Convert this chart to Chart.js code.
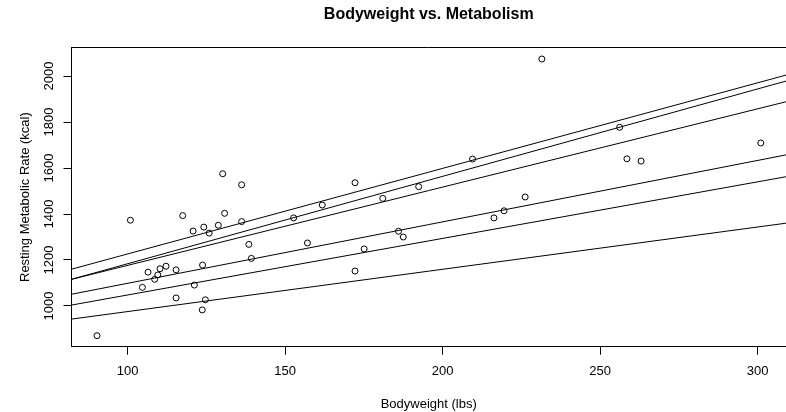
<!DOCTYPE html>
<html>
<head>
<meta charset="utf-8">
<script src="https://cdn.jsdelivr.net/npm/chart.js@4.4.1/dist/chart.umd.min.js"></script>
<style>
html, body { margin: 0; padding: 0; background: #fff; }
#wrap { width: 786px; height: 412px; }
</style>
</head>
<body>
<div id="wrap"><canvas id="chart"></canvas></div>
<script>
"use strict";

// observed people
var bodyweight = [
    90.3, 100.9, 117.5, 130.2, 136.2, 130.8, 120.8, 124.2, 125.9, 128.8,
    136.2, 138.5, 139.3, 106.5, 104.7, 108.6, 109.6, 110.3, 112.2, 115.4,
    123.8, 121.2, 115.4, 124.7, 123.7, 231.5, 209.5, 172.2, 192.4, 181.0,
    161.8, 152.7, 226.2, 219.5, 216.3, 186.0, 187.5, 157.1, 175.1, 172.2,
    256.2, 258.5, 263.0, 301.0
];
var metabolicRate = [
    871, 1373, 1393, 1575, 1527, 1403, 1326, 1343, 1317, 1351,
    1367, 1268, 1207, 1147, 1081, 1116, 1135, 1162, 1173, 1157,
    1178, 1091, 1035, 1027, 983, 2074, 1639, 1536, 1519, 1468,
    1439, 1383, 1474, 1414, 1383, 1325, 1300, 1274, 1248, 1152,
    1777, 1640, 1630, 1709
];

// fitted lines, value at left and right end of the x range
var xRange = [82.2, 309.0];
var fitLeft = [1160, 1116, 1116, 1051, 1004, 943];
var fitRight = [2004, 1978, 1888, 1657, 1562, 1360];

var yRange = [823, 2124];
var xTicks = [100, 150, 200, 250, 300];
var yTicks = [1000, 1200, 1400, 1600, 1800, 2000];

var FONT = "'Liberation Sans', Arial, Helvetica, sans-serif";
Chart.defaults.font.family = FONT;
Chart.defaults.font.size = 13;
Chart.defaults.color = "#000";

function _points() {
    return bodyweight.map(function(x, i) {
        return { x: x, y: metabolicRate[i] };
    });
}

function _fitLines() {
    return fitLeft.map(function(v, i) {
        return {
            type: "line",
            data: [{ x: xRange[0], y: v }, { x: xRange[1], y: fitRight[i] }],
            borderColor: "#000",
            borderWidth: 1,
            pointRadius: 0,
            fill: false
        };
    });
}

// top of the box plus the vertical y tick labels, R style
var rFrame = {
    id: "rFrame",
    afterDraw: function(chart) {
        var ctx = chart.ctx;
        var area = chart.chartArea;
        var yScale = chart.scales.y;
        ctx.save();
        ctx.strokeStyle = "#000";
        ctx.lineWidth = 1;
        ctx.beginPath();
        ctx.moveTo(area.left, area.top);
        ctx.lineTo(area.right, area.top);
        ctx.stroke();
        ctx.fillStyle = "#000";
        ctx.font = "13px " + FONT;
        ctx.textAlign = "center";
        ctx.textBaseline = "middle";
        yTicks.forEach(function(v) {
            ctx.save();
            ctx.translate(area.left - 22, yScale.getPixelForValue(v));
            ctx.rotate(-Math.PI / 2);
            ctx.fillText(String(v), 0, 0);
            ctx.restore();
        });
        ctx.restore();
    }
};

new Chart(document.getElementById("chart"), {
    type: "scatter",
    data: {
        datasets: [{
            label: "People",
            data: _points(),
            pointStyle: "circle",
            pointRadius: 3,
            pointBorderWidth: 1,
            pointBorderColor: "#000",
            pointBackgroundColor: "rgba(0,0,0,0)"
        }].concat(_fitLines())
    },
    options: {
        responsive: true,
        maintainAspectRatio: false,
        animation: false,
        layout: { padding: 0, autoPadding: false },
        plugins: {
            legend: { display: false },
            tooltip: { enabled: false },
            title: {
                display: true,
                text: "Bodyweight vs. Metabolism",
                fullSize: false,
                font: { size: 16, weight: "bold" },
                padding: { top: 5, bottom: 23.3 }
            }
        },
        scales: {
            x: {
                type: "linear",
                min: xRange[0],
                max: xRange[1],
                afterBuildTicks: function(scale) {
                    scale.ticks = xTicks.map(function(v) { return { value: v }; });
                },
                afterFit: function(scale) { scale.height = 65.3; },
                ticks: { padding: 9, maxRotation: 0 },
                grid: { drawOnChartArea: false, tickLength: 8, color: "#000" },
                border: { display: true, color: "#000", width: 1 },
                title: { display: true, text: "Bodyweight (lbs)", padding: { top: 0, bottom: 0 } }
            },
            y: {
                type: "linear",
                min: yRange[0],
                max: yRange[1],
                afterBuildTicks: function(scale) {
                    scale.ticks = yTicks.map(function(v) { return { value: v }; });
                },
                afterFit: function(scale) { scale.width = 71.5; },
                ticks: { display: false },
                grid: { drawOnChartArea: false, tickLength: 8, color: "#000" },
                border: { display: true, color: "#000", width: 1 },
                title: { display: true, text: "Resting Metabolic Rate (kcal)", padding: { top: 18, bottom: 0 } }
            }
        }
    },
    plugins: [rFrame]
});
</script>
</body>
</html>
